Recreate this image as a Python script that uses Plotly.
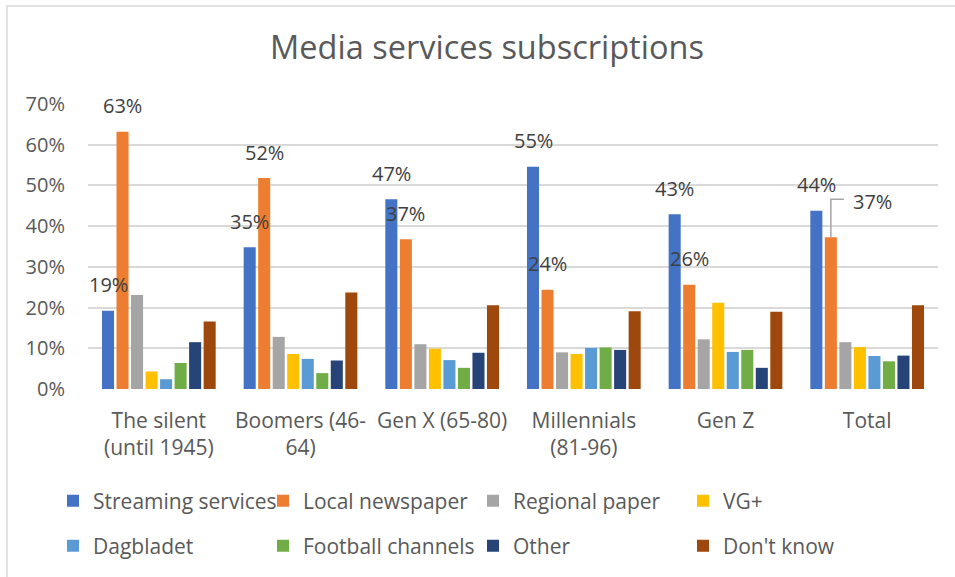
import plotly.graph_objects as go

# Survey data: share of respondents with each subscription, by generation (%)
categories = ["The silent<br>(until 1945)", "Boomers (46-<br>64)", "Gen X (65-80)",
              "Millennials<br>(81-96)", "Gen Z", "Total"]
series_names = ["Streaming services", "Local newspaper", "Regional paper", "VG+",
                "Dagbladet", "Football channels", "Other", "Don't know"]

streaming = [19.2, 34.8, 46.6, 54.6, 42.9, 43.8]
local_newspaper = [63.2, 51.8, 36.8, 24.4, 25.6, 37.3]
regional_paper = [23.1, 12.8, 11.0, 9.0, 12.2, 11.5]
vg_plus = [4.3, 8.6, 9.9, 8.6, 21.2, 10.3]
dagbladet = [2.4, 7.4, 7.1, 10.1, 9.1, 8.1]
football = [6.4, 3.9, 5.2, 10.2, 9.6, 6.8]
other = [11.5, 7.0, 8.9, 9.6, 5.2, 8.2]
dont_know = [16.6, 23.7, 20.6, 19.1, 19.0, 20.6]

series_values = [streaming, local_newspaper, regional_paper, vg_plus,
                 dagbladet, football, other, dont_know]
colors = ["#4472C4", "#ED7D31", "#A5A5A5", "#FFC000",
          "#5B9BD5", "#70AD47", "#264478", "#9E480E"]

FONT = "Open Sans"
TEXT = "#595959"
GRID = "#D9D9D9"

W, H = 955, 577
ML, MR, MT, MB = 88, 17, 104, 188
BARGAP, GROUPGAP = 0.18, 0.17

xpos = list(range(len(categories)))
n = len(series_names)
slot = (1 - BARGAP) / n


def bar_x(i, k):
    return xpos[i] + (k - (n - 1) / 2) * slot


fig = go.Figure()
for k, (name, vals, col) in enumerate(zip(series_names, series_values, colors)):
    fig.add_trace(go.Bar(
        x=xpos, y=vals, name=name, marker=dict(color=col, line=dict(width=0)),
        legend="legend" if k < 4 else "legend2",
        hoverinfo="skip",
    ))

# Value labels for streaming and local newspaper bars
annotations = []
for k in (0, 1):
    for i, v in enumerate(series_values[k]):
        moved = (k == 1 and i == len(categories) - 1)
        annotations.append(dict(
            x=bar_x(i, k), y=v, xref="x", yref="y",
            text=f"{round(v)}%", showarrow=False,
            font=dict(family=FONT, size=20, color="#404040"),
            xanchor="center", yanchor="middle",
            xshift=42 if moved else 0, yshift=36 if moved else 26,
        ))

shapes = []
# leader line for the moved Total label
shapes.append(dict(
    type="path", xref="x", yref="y", xsizemode="pixel", ysizemode="pixel",
    xanchor=bar_x(len(categories) - 1, 1), yanchor=local_newspaper[-1],
    path="M0,0 L0,38 L13,38", line=dict(color="#A6A6A6", width=1.5),
))
# chart area border (left and top edges)
pw, ph = W - ML - MR, H - MT - MB
shapes.append(dict(
    type="rect", xref="paper", yref="paper",
    x0=(7 - ML) / pw, x1=(W + 20 - ML) / pw,
    y0=-(H + 20 - MT - ph) / ph, y1=1 + (MT - 6) / ph,
    line=dict(color=GRID, width=1.5), layer="below",
))

legend_common = dict(
    orientation="h", xref="container", yref="container",
    xanchor="left", yanchor="middle",
    font=dict(family=FONT, size=21, color=TEXT),
    entrywidth=165, entrywidthmode="pixels",
    bgcolor="rgba(0,0,0,0)", itemclick=False, itemdoubleclick=False,
)

fig.update_layout(
    width=W, height=H,
    margin=dict(l=ML, r=MR, t=MT, b=MB, pad=0),
    paper_bgcolor="white", plot_bgcolor="white",
    barmode="group", bargap=BARGAP, bargroupgap=GROUPGAP,
    title=dict(text="Media services subscriptions", x=487 / W, xanchor="center",
               xref="container", y=1 - 48 / H, yref="container", yanchor="middle",
               font=dict(family=FONT, size=32.5, color=TEXT)),
    xaxis=dict(range=[-0.5, len(categories) - 0.5], tickvals=xpos, ticktext=categories,
               showgrid=False, zeroline=False, showline=False, ticks="",
               tickfont=dict(family=FONT, size=21, color=TEXT), ticklabelstandoff=17),
    yaxis=dict(range=[0, 70], dtick=10, ticksuffix="%", showgrid=True,
               gridcolor=GRID, gridwidth=1.5, zeroline=False, showline=False,
               ticks="", tickfont=dict(family=FONT, size=20, color=TEXT),
               ticklabelstandoff=22),
    legend=dict(x=53 / W, y=1 - 501 / H, **legend_common),
    legend2=dict(x=53 / W, y=1 - 546 / H, **legend_common),
    annotations=annotations,
    shapes=shapes,
    showlegend=True,
)

fig.write_html("out.html")
